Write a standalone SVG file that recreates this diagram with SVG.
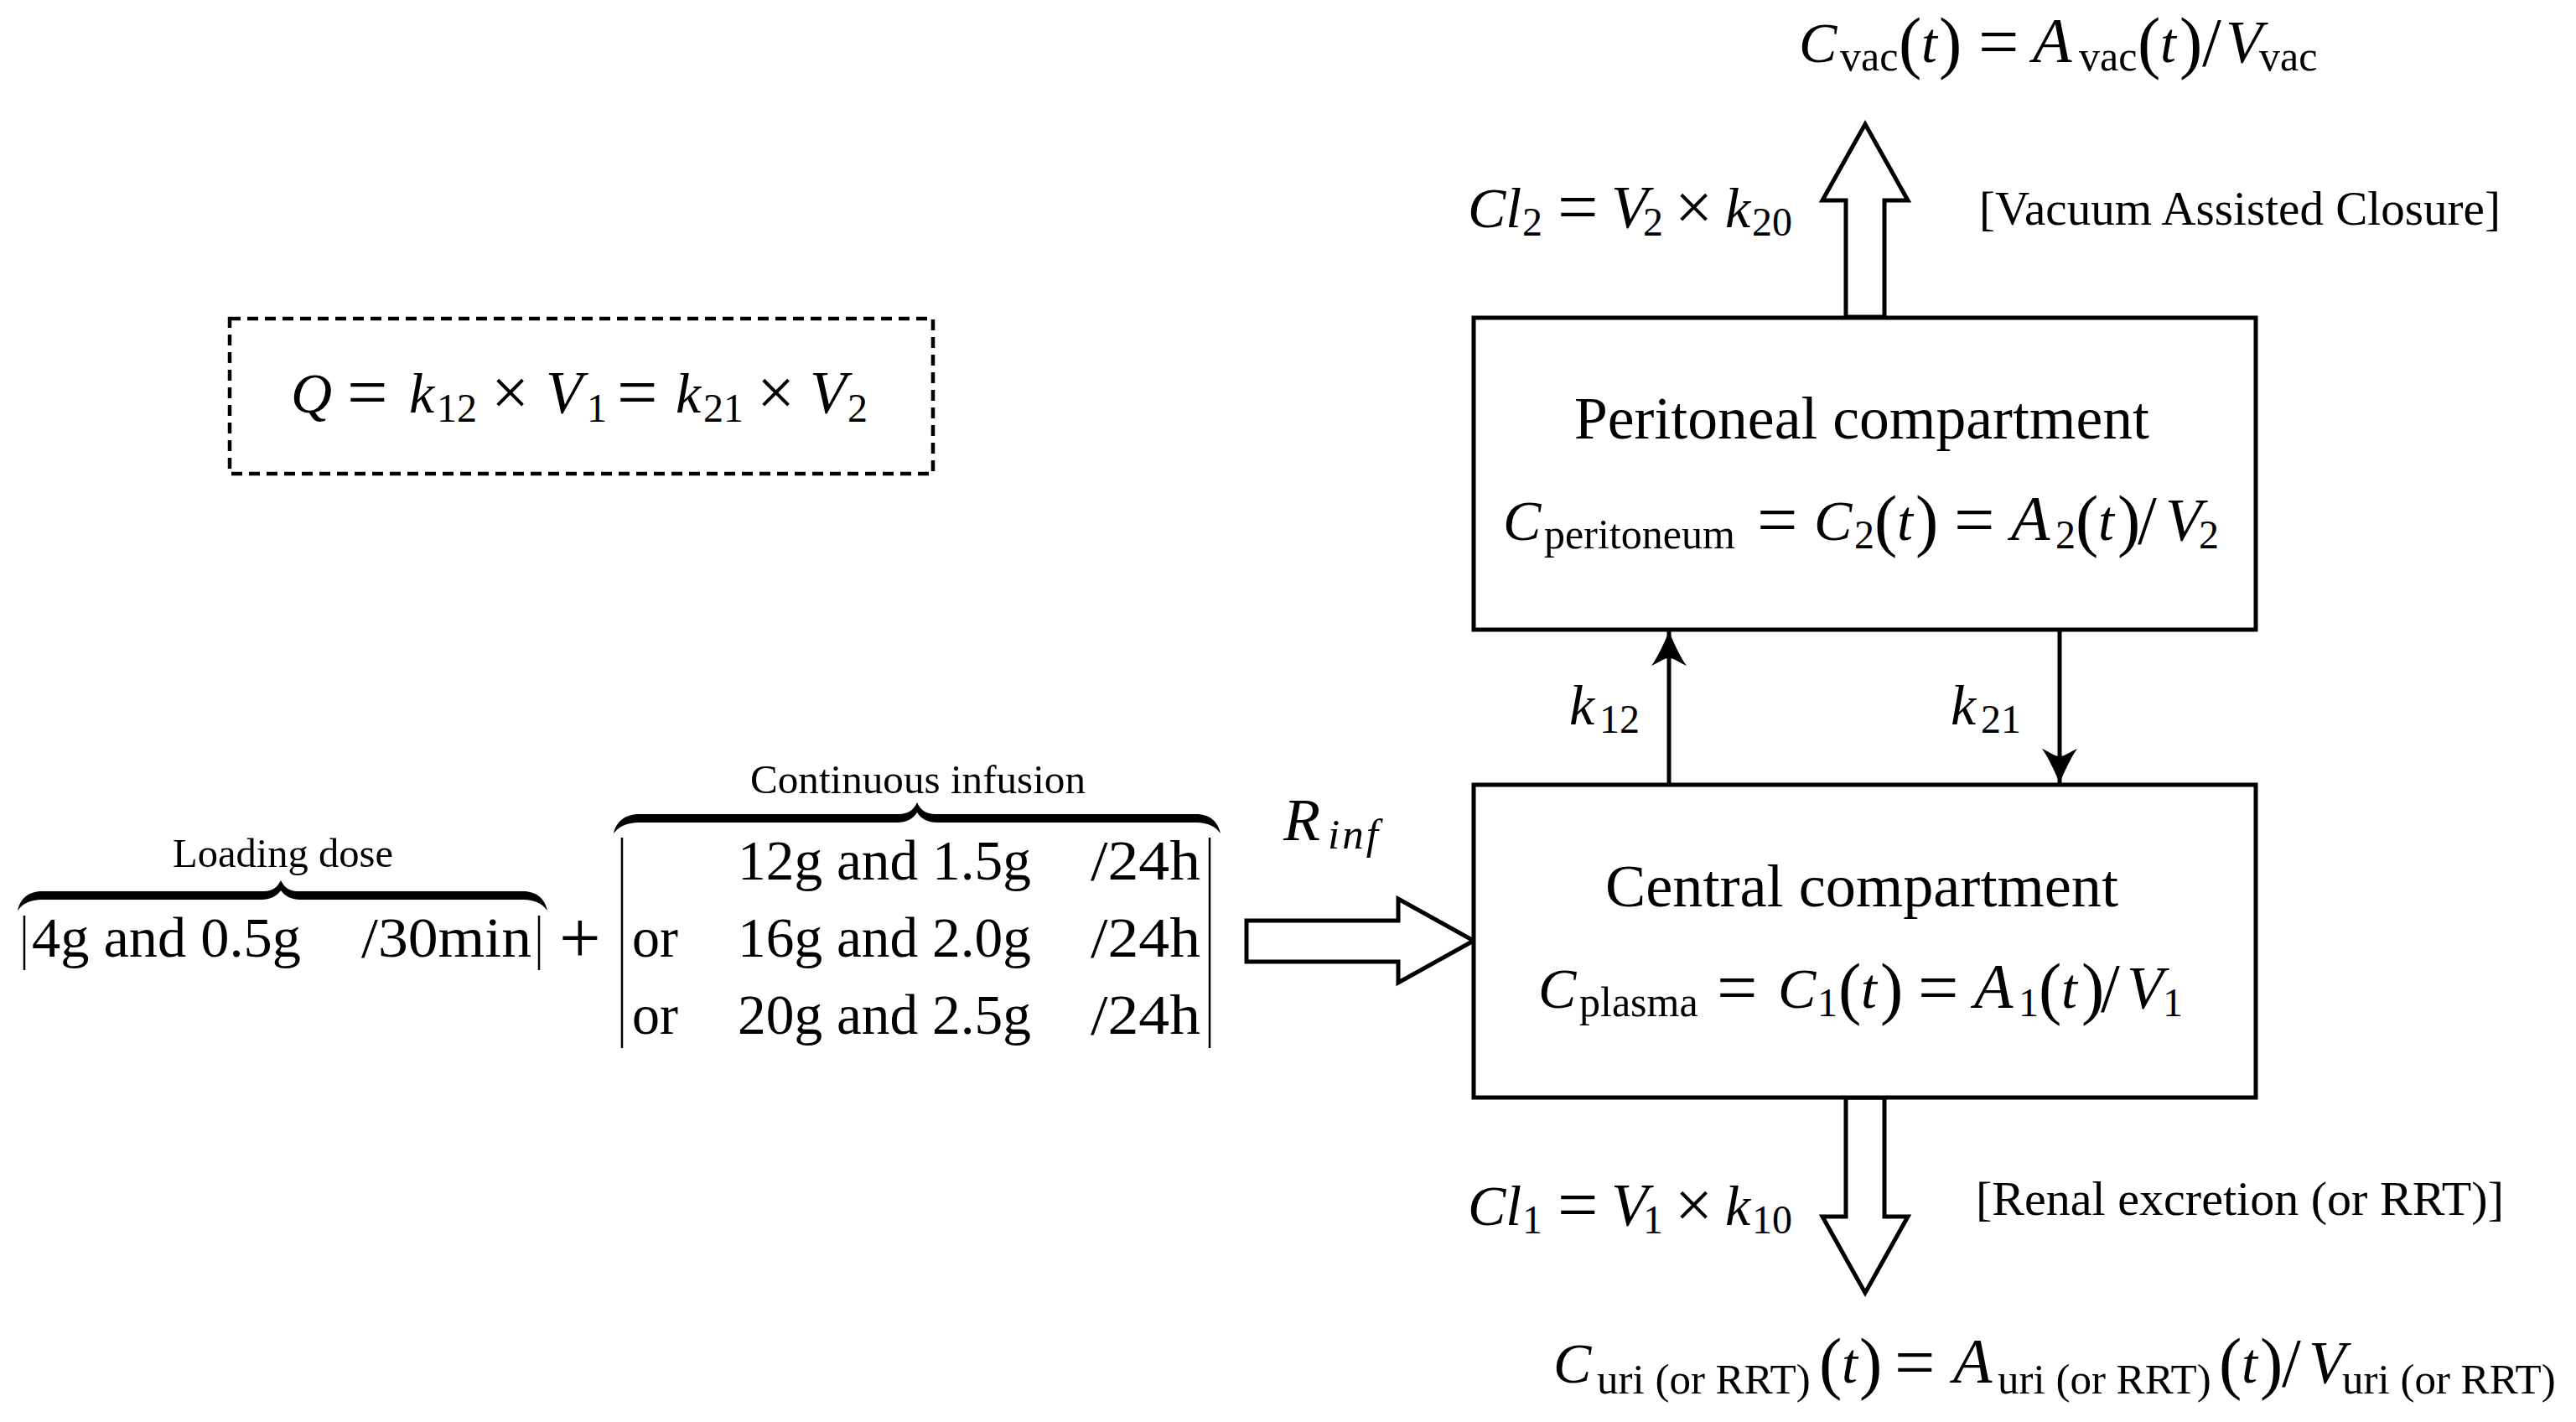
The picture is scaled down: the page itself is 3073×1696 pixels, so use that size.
<svg xmlns="http://www.w3.org/2000/svg" width="3073" height="1696" viewBox="0 0 3073 1696">
<style>
text{font-family:"Liberation Serif","Times New Roman",serif;fill:#000}
.m{font-size:68px}
.h{font-size:72px}
.b{font-size:57px}
.r{font-size:67px}
.c{font-size:49px}
.i{font-style:italic}
.s{font-size:50px}
.u{font-size:51px}
.n{font-size:48px}
.e{font-size:86px}
.x{font-size:80px}
.p{font-size:82px}
.a{font-size:76px}
.v{font-size:72px}
.box{fill:#fff;stroke:#000;stroke-width:5}
.hollow{fill:#fff;stroke:#000;stroke-width:5;stroke-linejoin:miter}
.thin{stroke:#000;stroke-width:2.5;fill:none}
.link{stroke:#000;stroke-width:5;fill:none;marker-end:url(#tip)}
.brace{fill:#000;stroke:none}
</style>
<defs>
<marker id="tip" markerUnits="userSpaceOnUse" markerWidth="44" markerHeight="44" refX="42" refY="22" orient="auto" overflow="visible">
<path d="M42,22 C30,17 12,9 1,1 C5,10 10,16 10,22 C10,28 5,34 1,43 C12,35 30,27 42,22 Z" fill="#000"/>
</marker>
</defs>
<rect width="3073" height="1696" fill="#fff"/>

<g id="connectors">
<path class="hollow" d="M2202,378 V239 H2174 L2225,148 L2276,239 H2248 V378 Z"/>
<path class="hollow" d="M2202,1309 V1451 H2174 L2225,1542 L2276,1451 H2248 V1309 Z"/>
<path class="hollow" d="M1487,1098 H1668 V1072 L1758,1122 L1668,1172 V1147 H1487 Z"/>
<line class="link" x1="1991" y1="935" x2="1991" y2="753"/>
<line class="link" x1="2457" y1="751" x2="2457" y2="934"/>
</g>

<g id="qbox">
<rect x="274" y="380" width="839" height="185" fill="none" stroke="#000" stroke-width="4.5" stroke-dasharray="13 8"/>
<text class="m"><tspan class="i" x="347" y="492">Q</tspan><tspan class="e" x="414" y="497">=</tspan><tspan class="i" x="488" y="492">k</tspan><tspan class="n" x="521" y="503">12</tspan><tspan class="x" x="586" y="495">×</tspan><tspan class="i v" x="651" y="492">V</tspan><tspan class="n" x="700" y="503">1</tspan><tspan class="e" x="736" y="497">=</tspan><tspan class="i" x="806" y="492">k</tspan><tspan class="n" x="839" y="503">21</tspan><tspan class="x" x="903" y="495">×</tspan><tspan class="i v" x="966" y="492">V</tspan><tspan class="n" x="1011" y="503">2</tspan></text>
</g>

<g id="peritoneal">
<rect class="box" x="1758" y="379" width="933" height="372"/>
<text class="h" x="1878" y="523" textLength="686" lengthAdjust="spacingAndGlyphs">Peritoneal compartment</text>
<text class="m"><tspan class="i" x="1793" y="644">C</tspan><tspan class="s" x="1842" y="654" textLength="228">peritoneum</tspan><tspan class="e" x="2096" y="649">=</tspan><tspan class="i" x="2164" y="644">C</tspan><tspan class="n" x="2212" y="654">2</tspan><tspan class="p" x="2236" y="648">(</tspan><tspan class="i" x="2263" y="644">t</tspan><tspan class="p" x="2285" y="648">)</tspan><tspan class="e" x="2331" y="649">=</tspan><tspan class="i a" x="2399" y="644">A</tspan><tspan class="n" x="2452" y="654">2</tspan><tspan class="p" x="2476" y="648">(</tspan><tspan class="i" x="2503" y="644">t</tspan><tspan class="p" x="2526" y="648">)</tspan><tspan class="p" x="2550" y="648">/</tspan><tspan class="i v" x="2583" y="644">V</tspan><tspan class="n" x="2623" y="654">2</tspan></text>
</g>

<g id="central">
<rect class="box" x="1758" y="936" width="933" height="373"/>
<text class="h" x="1915" y="1081" textLength="612" lengthAdjust="spacingAndGlyphs">Central compartment</text>
<text class="m"><tspan class="i" x="1835" y="1202">C</tspan><tspan class="s" x="1884" y="1212">plasma</tspan><tspan class="e" x="2048" y="1207">=</tspan><tspan class="i" x="2121" y="1202">C</tspan><tspan class="n" x="2168" y="1212">1</tspan><tspan class="p" x="2193" y="1206">(</tspan><tspan class="i" x="2220" y="1202">t</tspan><tspan class="p" x="2243" y="1206">)</tspan><tspan class="e" x="2288" y="1207">=</tspan><tspan class="i a" x="2355" y="1202">A</tspan><tspan class="n" x="2408" y="1212">1</tspan><tspan class="p" x="2432" y="1206">(</tspan><tspan class="i" x="2459" y="1202">t</tspan><tspan class="p" x="2483" y="1206">)</tspan><tspan class="p" x="2506" y="1206">/</tspan><tspan class="i v" x="2537" y="1202">V</tspan><tspan class="n" x="2580" y="1212">1</tspan></text>
</g>

<g id="vac-output">
<text class="m"><tspan class="i" x="2146" y="74">C</tspan><tspan class="s" x="2195" y="84">vac</tspan><tspan class="p" x="2265" y="78">(</tspan><tspan class="i" x="2292" y="74">t</tspan><tspan class="p" x="2313" y="78">)</tspan><tspan class="e" x="2360" y="79">=</tspan><tspan class="i a" x="2425" y="74">A</tspan><tspan class="s" x="2480" y="84">vac</tspan><tspan class="p" x="2550" y="78">(</tspan><tspan class="i" x="2577" y="74">t</tspan><tspan class="p" x="2600" y="78">)</tspan><tspan class="p" x="2627" y="78">/</tspan><tspan class="i v" x="2655" y="74">V</tspan><tspan class="s" x="2695" y="84">vac</tspan></text>
<text class="m"><tspan class="i" x="1751" y="271">Cl</tspan><tspan class="n" x="1816" y="281">2</tspan><tspan class="e" x="1858" y="276">=</tspan><tspan class="i v" x="1922" y="271">V</tspan><tspan class="n" x="1960" y="281">2</tspan><tspan class="x" x="1998" y="274">×</tspan><tspan class="i" x="2058" y="271">k</tspan><tspan class="n" x="2090" y="281">20</tspan></text>
<text class="b" x="2361" y="268" textLength="622" lengthAdjust="spacingAndGlyphs">[Vacuum Assisted Closure]</text>
</g>

<g id="rates">
<text class="m"><tspan class="i" x="1872" y="864">k</tspan><tspan class="n" x="1908" y="874">12</tspan></text>
<text class="m"><tspan class="i" x="2327" y="864">k</tspan><tspan class="n" x="2363" y="874">21</tspan></text>
<text class="m"><tspan class="i v" x="1531" y="1002">R</tspan><tspan class="i u" x="1584" y="1012" textLength="60">inf</tspan></text>
</g>

<g id="uri-output">
<text class="m"><tspan class="i" x="1751" y="1461">Cl</tspan><tspan class="n" x="1816" y="1471">1</tspan><tspan class="e" x="1858" y="1466">=</tspan><tspan class="i v" x="1922" y="1461">V</tspan><tspan class="n" x="1960" y="1471">1</tspan><tspan class="x" x="1998" y="1464">×</tspan><tspan class="i" x="2058" y="1461">k</tspan><tspan class="n" x="2090" y="1471">10</tspan></text>
<text class="b" x="2357" y="1449" textLength="630" lengthAdjust="spacingAndGlyphs">[Renal excretion (or RRT)]</text>
<text class="m"><tspan class="i" x="1853" y="1649">C</tspan><tspan class="u" x="1905" y="1662">uri (or RRT)</tspan><tspan class="p" x="2170" y="1653">(</tspan><tspan class="i" x="2197" y="1649">t</tspan><tspan class="p" x="2218" y="1653">)</tspan><tspan class="e" x="2260" y="1654">=</tspan><tspan class="i a" x="2330" y="1649">A</tspan><tspan class="u" x="2383" y="1662">uri (or RRT)</tspan><tspan class="p" x="2647" y="1653">(</tspan><tspan class="i" x="2674" y="1649">t</tspan><tspan class="p" x="2696" y="1653">)</tspan><tspan class="p" x="2722" y="1653">/</tspan><tspan class="i v" x="2754" y="1649">V</tspan><tspan class="u" x="2794" y="1662">uri (or RRT)</tspan></text>
</g>

<g id="loading-dose">
<text class="c" x="206" y="1034" textLength="263" lengthAdjust="spacingAndGlyphs">Loading dose</text>
<path class="brace" d="M21,1086 C24,1072 34,1063 50,1063 H315 C325,1063 331,1058 335,1050 C339,1058 345,1063 355,1063 H624 C640,1063 650,1072 653,1086 C647,1078 638,1073 624,1073 H358 C348,1073 340,1069 335,1062 C330,1069 322,1073 312,1073 H50 C36,1073 27,1078 21,1086 Z"/>
<line class="thin" x1="29" y1="1092" x2="29" y2="1157"/>
<line class="thin" x1="643" y1="1092" x2="643" y2="1157"/>
<text class="r" x="38" y="1141" textLength="321" lengthAdjust="spacingAndGlyphs">4g and 0.5g</text>
<text class="r" x="431" y="1141" textLength="203" lengthAdjust="spacingAndGlyphs">/30min</text>
<text x="667" y="1148" style="font-size:88px">+</text>
</g>

<g id="continuous-infusion">
<text class="c" x="895" y="946" textLength="400" lengthAdjust="spacingAndGlyphs">Continuous infusion</text>
<path class="brace" d="M732,994 C735,980 746,971 762,971 H1072 C1083,971 1090,966 1094,957 C1098,966 1105,971 1116,971 H1427 C1443,971 1453,980 1456,994 C1450,986 1441,981 1427,981 H1118 C1107,981 1099,977 1094,969 C1089,977 1081,981 1070,981 H762 C748,981 738,986 732,994 Z"/>
<line class="thin" x1="742" y1="999" x2="742" y2="1250"/>
<line class="thin" x1="1443" y1="999" x2="1443" y2="1250"/>
<text class="r" x="880" y="1049" textLength="350" lengthAdjust="spacingAndGlyphs">12g and 1.5g</text>
<text class="r" x="1301" y="1049" textLength="131" lengthAdjust="spacingAndGlyphs">/24h</text>
<text class="r" x="754" y="1141" textLength="55" lengthAdjust="spacingAndGlyphs">or</text>
<text class="r" x="880" y="1141" textLength="350" lengthAdjust="spacingAndGlyphs">16g and 2.0g</text>
<text class="r" x="1301" y="1141" textLength="131" lengthAdjust="spacingAndGlyphs">/24h</text>
<text class="r" x="754" y="1233" textLength="55" lengthAdjust="spacingAndGlyphs">or</text>
<text class="r" x="880" y="1233" textLength="350" lengthAdjust="spacingAndGlyphs">20g and 2.5g</text>
<text class="r" x="1301" y="1233" textLength="131" lengthAdjust="spacingAndGlyphs">/24h</text>
</g>
</svg>
